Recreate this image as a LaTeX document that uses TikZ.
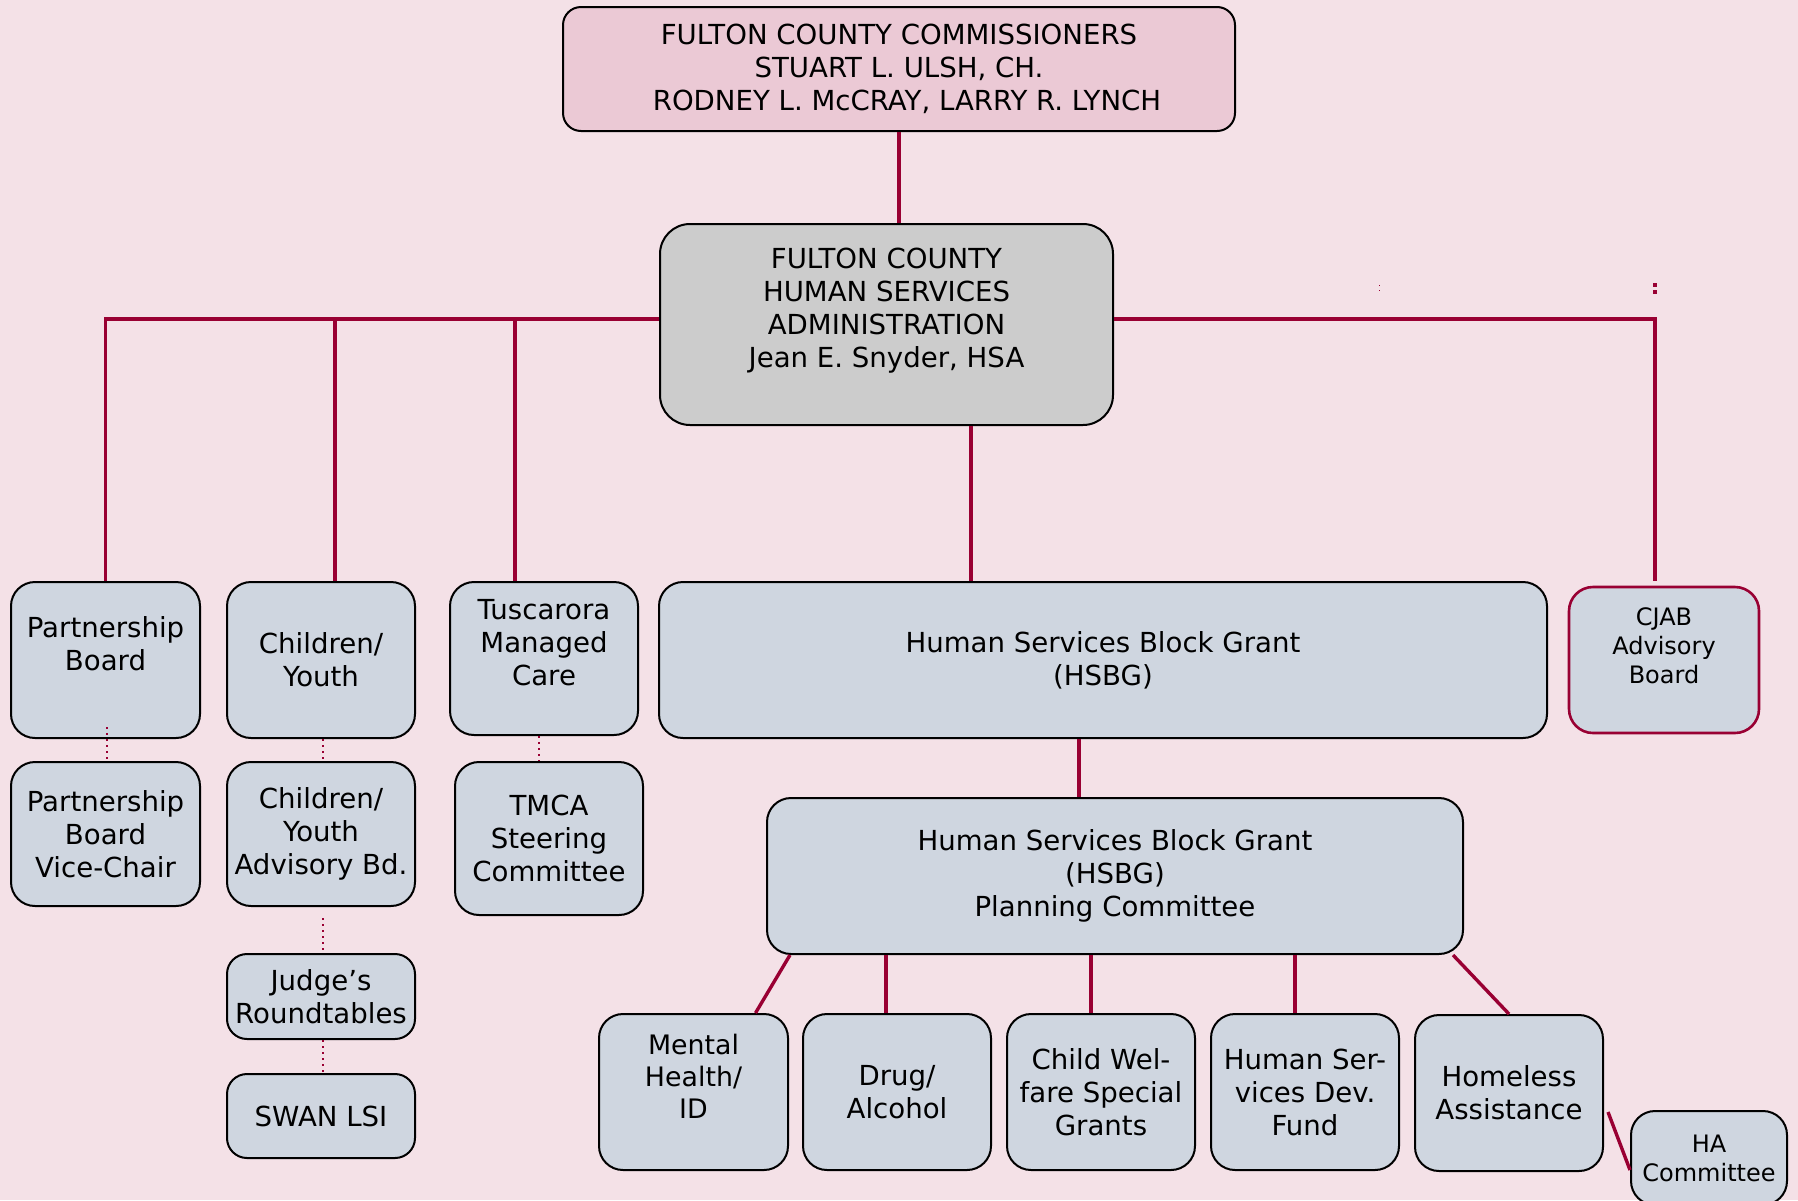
\documentclass[tikz,border=0pt]{standalone}
\usepackage{fontspec}
\setmainfont{DejaVu Sans}
\usepackage{tikz}
\usetikzlibrary{positioning, calc}
\definecolor{bgpink}{HTML}{F4E1E7}
\definecolor{toppink}{HTML}{EBC9D5}
\definecolor{adminGray}{HTML}{CCCCCC}
\definecolor{boxblue}{HTML}{CFD6E0}
\definecolor{linkred}{HTML}{990033}

\tikzset{
	unit/.style={draw=black, line width=1pt, fill=boxblue, rounded corners=12pt, align=center, inner sep=0pt,
		font=\fontsize{13.8}{16.5}\selectfont},
	smallunit/.style={unit, font=\fontsize{12}{14.5}\selectfont},
	size/.style 2 args={minimum width=#1*0.5pt, minimum height=#2*0.5pt},
	link/.style={draw=linkred, line width=1.7pt},
	sublink/.style={draw=linkred, line width=1pt, dotted},
}

\begin{document}
\begin{tikzpicture}[x=0.5pt, y=-0.5pt]
		\useasboundingbox (0,0) rectangle (1798,1200);
		\fill[bgpink] (0,0) rectangle (1798,1200);
		\clip (0,0) rectangle (1798,1200);
		
		%% top of the chart
		\node[unit, fill=toppink, rounded corners=9pt, size={672}{124}] (comm) at (899,69) {FULTON COUNTY COMMISSIONERS\\STUART L. ULSH, CH.\\\hspace*{8pt}RODNEY L. McCRAY, LARRY R. LYNCH};
		\node[unit, fill=adminGray, rounded corners=15pt, size={453}{201}] (hsa) at (886.5,324.5) {FULTON COUNTY\\HUMAN SERVICES\\ADMINISTRATION\\Jean E. Snyder, HSA\\~};
		
		%% first row
		\node[unit, size={189}{156}] (pb) at (105.5,660) {Partnership\\Board\\~};
		\node[unit, size={188}{156}] (cy) at (321,660) {Children/\\Youth};
		\node[unit, size={188}{153}] (tus) at (544,658.5) {Tuscarora\\Managed\\Care\\~};
		\node[unit, size={888}{156}] (hsbg) at (1103,660) {Human Services Block Grant\\(HSBG)};
		\node[smallunit, draw=linkred, line width=1.3pt, size={190}{146}] (cjab) at (1664,660) {CJAB\\Advisory\\Board\\~};
		
		%% second row
		\node[unit, size={189}{144}] (pbv) at (105.5,834) {Partnership\\Board\\Vice-Chair};
		\node[unit, size={188}{144}] (cya) at (321,834) {Children/\\Youth\\Advisory Bd.};
		\node[unit, size={188}{153}] (tmca) at (549,838.5) {TMCA\\Steering\\Committee};
		\node[unit, rounded corners=10pt, size={188}{85}] (judge) at (321,996.5) {Judge’s\\Roundtables};
		\node[unit, rounded corners=10pt, size={188}{84}] (swan) at (321,1116) {SWAN LSI};
		\node[unit, size={696}{156}] (plan) at (1115,876) {Human Services Block Grant\\(HSBG)\\Planning Committee};
		
		%% block grant row
		\node[unit, font=\fontsize{13.4}{16}\selectfont, size={189}{156}] (mh) at (693.5,1092) {Mental\\Health/\\ID\\~};
		\node[unit, size={188}{156}] (drug) at (897,1092) {Drug/\\Alcohol};
		\node[unit, size={188}{156}] (cw) at (1101,1092) {Child Wel-\\fare Special\\Grants};
		\node[unit, size={188}{156}] (hsdf) at (1305,1092) {Human Ser-\\vices Dev.\\Fund};
		\node[unit, size={188}{156}] (home) at (1509,1093) {Homeless\\Assistance};
		\node[smallunit, size={156}{94}] (ha) at (1709,1158) {HA\\Committee};
		
		%% solid links
		\coordinate (bus) at (0,319);
		\coordinate (cytap) at (335,319);
		\coordinate (tustap) at (515,319);
		\coordinate (cjabtap) at (1655,319);
		\coordinate (hsbgtap) at (971,0);
		\coordinate (plantap) at (1079,0);
		\coordinate (drugtap) at ($(drug.north)+(-11,0)$);
		\coordinate (cwtap) at ($(cw.north)+(-10,0)$);
		\coordinate (hsdftap) at ($(hsdf.north)+(-10,0)$);
		\draw[link] (comm.south) -- (comm.south |- hsa.north);
		\draw[link] (hsa.west |- bus) -| (pb.north);
		\draw[link] (cytap) -- (cytap |- cy.north);
		\draw[link] (tustap) -- (tustap |- tus.north);
		\draw[link] (hsa.east |- bus) -- (cjabtap) -- ($(cjabtap |- cjab.north)+(0,-5)$);
		\draw[link] (hsa.south -| hsbgtap) -- (hsbg.north -| hsbgtap);
		\draw[link] (hsbg.south -| plantap) -- (plan.north -| plantap);
		\draw[link] ($(plan.south west)+(24,0)$) -- ($(mh.north)+(62,0)$);
		\draw[link] (drugtap) -- (drugtap |- plan.south);
		\draw[link] (cwtap) -- (cwtap |- plan.south);
		\draw[link] (hsdftap) -- (hsdftap |- plan.south);
		\draw[link] ($(plan.south east)+(-11,0)$) -- (home.north);
		\draw[link] ($(home.east)+(4,19)$) -- ($(ha.west)+(0,12)$);
		
		%% dotted links
		\coordinate (tmcatap) at (539,0);
		\draw[sublink] ($(pb.south)+(1.5,-12)$) -- ($(pbv.north)+(1.5,0)$);
		\draw[sublink] ($(cy.south)+(2,0)$) -- ($(cya.north)+(2,0)$);
		\draw[sublink] (tus.south -| tmcatap) -- (tmca.north -| tmcatap);
		\draw[sublink] ($(cya.south)+(2,11)$) -- ($(judge.north)+(2,0)$);
		\draw[sublink] ($(judge.south)+(2,0)$) -- ($(swan.north)+(2,0)$);
		
		%% stray marks above the bus
		\draw[linkred, line width=0.5pt, dotted] (1379,285) -- (1379,294);
		\draw[linkred, line width=1.6pt, dash pattern=on 2pt off 1.5pt] (1655,283) -- (1655,295);
\end{tikzpicture}
\end{document}
